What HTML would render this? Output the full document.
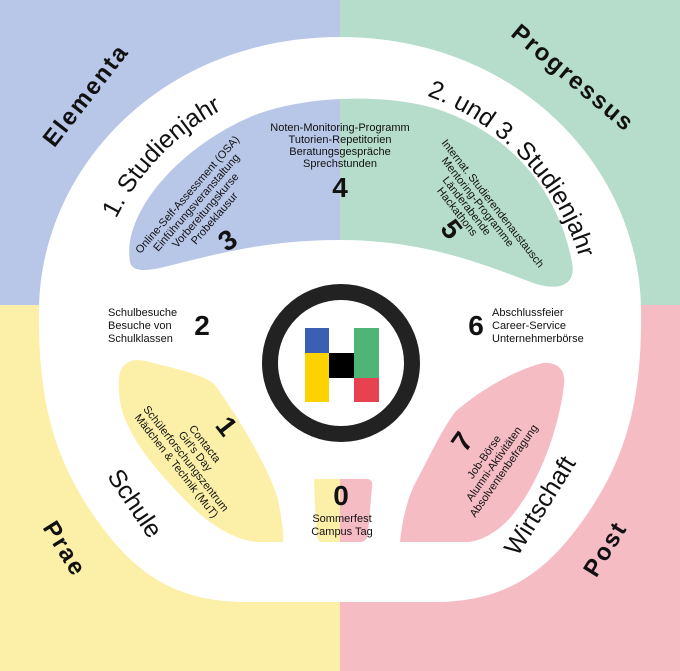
<!DOCTYPE html>
<html><head><meta charset="utf-8"><style>
html,body{margin:0;padding:0;background:#fff}
svg{display:block}
.t{font-family:"Liberation Sans",sans-serif;fill:#111}
.s{font-size:11px}
.n{font-size:28px;font-weight:bold}
.h{font-size:24px;font-weight:bold;letter-spacing:2px}
.r{font-size:25px}
</style></head><body>
<svg width="680" height="671" viewBox="0 0 680 671" xmlns="http://www.w3.org/2000/svg">
<defs>
<clipPath id="L"><rect x="0" y="0" width="340" height="671"/></clipPath>
<clipPath id="R"><rect x="340" y="0" width="340" height="671"/></clipPath>
<path id="arc" d="M 90,330 A 250 250 0 0 1 590,330"/>
</defs>
<rect x="0" y="0" width="340" height="305" fill="#b8c6e8"/>
<rect x="340" y="0" width="340" height="305" fill="#b6dccb"/>
<rect x="0" y="305" width="340" height="366" fill="#fcefa8"/>
<rect x="340" y="305" width="340" height="366" fill="#f5bcc4"/>
<path d="M340,37 C520,37 640,170 641,310 C642,390 630,450 590,510 C550,570 510,600 440,602 L240,602 C170,600 130,570 90,510 C50,450 38,390 39,310 C40,170 160,37 340,37 Z" fill="#fff"/>
<path d="M130,262 C122,215 175,150 250,117 C300,96 385,92 440,110 C520,138 560,200 572,262 C577,288 555,292 528,281 C478,262 420,240 340,240 C262,240 210,256 160,268 C140,272 132,270 130,262 Z" fill="#b8c6e8" clip-path="url(#L)"/>
<path d="M130,262 C122,215 175,150 250,117 C300,96 385,92 440,110 C520,138 560,200 572,262 C577,288 555,292 528,281 C478,262 420,240 340,240 C262,240 210,256 160,268 C140,272 132,270 130,262 Z" fill="#b6dccb" clip-path="url(#R)"/>
<path d="M120,372 C125,360 135,358 150,362 C180,370 205,375 215,385 C240,420 270,470 278,500 C282,520 284,535 283,542 L257,542 C235,540 210,525 190,505 C160,475 130,440 122,410 C118,395 118,380 120,372 Z" fill="#fcefa8"/>
<path d="M543,363 C556,362 566,368 564,385 C560,420 545,470 520,505 C505,528 485,540 469,542 L400,542 C402,520 408,495 418,478 C430,455 442,430 455,412 C480,390 515,370 543,363 Z" fill="#f5bcc4"/>
<path d="M314,479 L340,479 L340,542 L322,542 C318,542 317,538 316,530 Z" fill="#fcefa8"/>
<path d="M340,479 L367,479 C371,479 373,482 372,487 L368,534 C367,540 364,542 360,542 L340,542 Z" fill="#f5bcc4"/>
<circle cx="341" cy="363" r="71" fill="#fff" stroke="#222" stroke-width="16"/>
<rect x="305" y="328" width="24" height="25" fill="#3a5fb5"/>
<rect x="305" y="353" width="24" height="49" fill="#fcd200"/>
<rect x="329" y="353" width="25" height="25" fill="#000"/>
<rect x="354" y="328" width="25" height="50" fill="#4fb577"/>
<rect x="354" y="378" width="25" height="24" fill="#e8414f"/>
<text class="t h" text-anchor="middle" transform="translate(92,100) rotate(-52)">Elementa</text>
<text class="t h" text-anchor="middle" transform="translate(568,84) rotate(40)">Progressus</text>
<text class="t h" text-anchor="middle" transform="translate(58,553) rotate(58)">Prae</text>
<text class="t h" text-anchor="middle" transform="translate(612,553) rotate(-58)">Post</text>
<text class="t r"><textPath href="#arc" startOffset="24.5%" text-anchor="middle">1. Studienjahr</textPath></text>
<text class="t r"><textPath href="#arc" startOffset="76%" text-anchor="middle">2. und 3. Studienjahr</textPath></text>
<text class="t r" text-anchor="middle" transform="translate(128,508) rotate(56)">Schule</text>
<text class="t r" text-anchor="middle" transform="translate(547,510) rotate(-58)">Wirtschaft</text>
<g class="t s" text-anchor="middle">
<text x="340" y="131">Noten-Monitoring-Programm</text>
<text x="340" y="143">Tutorien-Repetitorien</text>
<text x="340" y="155">Beratungsgespräche</text>
<text x="340" y="167">Sprechstunden</text>
</g>
<text class="t n" x="340" y="197" text-anchor="middle">4</text>
<g class="t s" text-anchor="middle" transform="translate(190,197) rotate(-49)">
<text x="0" y="0">Online-Self-Assessment (OSA)</text>
<text x="0" y="12">Einführungsveranstaltung</text>
<text x="0" y="24">Vorbereitungskurse</text>
<text x="0" y="36">Probeklausur</text>
</g>
<text class="t n" text-anchor="middle" transform="translate(233,248) rotate(-35)">3</text>
<g class="t s" transform="translate(441,143) rotate(52)">
<text x="0" y="0">Internat. Studierendenaustausch</text>
<text x="14" y="11">Mentoring-Programme</text>
<text x="30" y="22">Länderabende</text>
<text x="35" y="33">Hackathons</text>
</g>
<text class="t n" text-anchor="middle" transform="translate(444,235) rotate(52)">5</text>
<g class="t s"><text x="108" y="316">Schulbesuche</text><text x="108" y="329">Besuche von</text><text x="108" y="342">Schulklassen</text></g>
<text class="t n" x="202" y="335" text-anchor="middle">2</text>
<text class="t n" x="476" y="335" text-anchor="middle">6</text>
<g class="t s"><text x="492" y="316">Abschlussfeier</text><text x="492" y="329">Career-Service</text><text x="492" y="342">Unternehmerbörse</text></g>
<g class="t s" text-anchor="middle" transform="translate(202,446) rotate(52)">
<text x="0" y="0">Contacta</text>
<text x="0" y="12">Girl's Day</text>
<text x="0" y="24">Schülerforschungszentrum</text>
<text x="0" y="36">Mädchen &amp; Technik (MuT)</text>
</g>
<text class="t n" text-anchor="middle" transform="translate(219,432) rotate(52)">1</text>
<g class="t s" text-anchor="middle" transform="translate(487,459) rotate(-55)">
<text x="0" y="0">Job-Börse</text>
<text x="0" y="12">Alumni-Aktivitäten</text>
<text x="0" y="24">Absolventenbefragung</text>
</g>
<text class="t n" text-anchor="middle" transform="translate(470,447) rotate(-55)">7</text>
<text class="t n" x="341" y="505" text-anchor="middle">0</text>
<g class="t s" text-anchor="middle"><text x="342" y="522">Sommerfest</text><text x="342" y="535">Campus Tag</text></g>
</svg>
</body></html>
